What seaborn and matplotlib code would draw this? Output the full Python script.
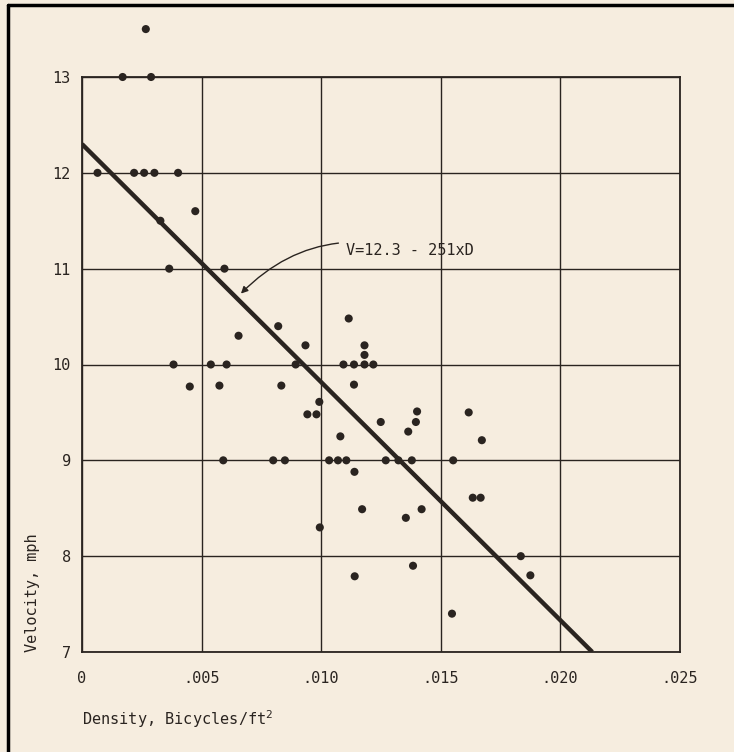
import matplotlib
matplotlib.use("Agg")
import matplotlib.pyplot as plt
from matplotlib.lines import Line2D
import seaborn as sns
import pandas as pd

# ---- data (density in bicycles/ft^2, velocity in mph) ----
density = [0.00065, 0.00170, 0.00289, 0.00267, 0.00218, 0.00260, 0.00303, 0.00402,
           0.00474, 0.00328, 0.00365, 0.00596, 0.00655, 0.00383, 0.00539, 0.00605,
           0.00451, 0.00575, 0.00591, 0.00821, 0.01116, 0.00935, 0.01182, 0.01182,
           0.00894, 0.01094, 0.01138, 0.01182, 0.01219, 0.00834, 0.01138, 0.00993,
           0.00943, 0.00981, 0.01250, 0.01365, 0.01081, 0.00800, 0.00849, 0.01034,
           0.01071, 0.01106, 0.01271, 0.01324, 0.01380, 0.01553, 0.01140, 0.01172,
           0.01355, 0.00995, 0.01141, 0.01402, 0.01397, 0.01618, 0.01673, 0.01635,
           0.01668, 0.01421, 0.01836, 0.01876, 0.01385, 0.01548]
velocity = [12.0, 13.0, 13.0, 13.5, 12.0, 12.0, 12.0, 12.0,
            11.6, 11.5, 11.0, 11.0, 10.3, 10.0, 10.0, 10.0,
            9.77, 9.78, 9.0, 10.4, 10.48, 10.2, 10.2, 10.1,
            10.0, 10.0, 10.0, 10.0, 10.0, 9.78, 9.79, 9.61,
            9.48, 9.48, 9.40, 9.30, 9.25, 9.0, 9.0, 9.0,
            9.0, 9.0, 9.0, 9.0, 9.0, 9.0, 8.88, 8.49,
            8.40, 8.30, 7.79, 9.51, 9.40, 9.50, 9.21, 8.61,
            8.61, 8.49, 8.0, 7.80, 7.90, 7.40]

# fitted line as drawn (V = 12.3 - 251 x D), endpoints
line_x = [0.0, 0.02135]
line_y = [12.3, 7.0]

x_ticks = [0.0, 0.005, 0.010, 0.015, 0.020, 0.025]
x_tick_labels = ["0", ".005", ".010", ".015", ".020", ".025"]
y_ticks = [7, 8, 9, 10, 11, 12, 13]
y_tick_labels = ["7", "8", "9", "10", "11", "12", "13"]
equation_label = "V=12.3 - 251xD"

# ---- style ----
bg = "#f6eddf"
ink = "#2a2420"
sns.set_style("white", {"axes.facecolor": bg, "figure.facecolor": bg})
plt.rcParams["font.family"] = ["DejaVu Sans Mono", "DejaVu Sans"]

fig = plt.figure(figsize=(7.34, 7.52), dpi=100)
fig.patch.set_facecolor(bg)
ax = fig.add_axes([82 / 734, 1 - 652 / 752, (679.5 - 82) / 734, (652 - 77) / 752])
ax.set_facecolor(bg)

pts = pd.DataFrame({"density": density, "velocity": velocity})
reg = pd.DataFrame({"density": line_x, "velocity": line_y})

sns.lineplot(data=reg, x="density", y="velocity", ax=ax, color=ink, lw=3.2,
             zorder=3, solid_capstyle="butt")
sns.scatterplot(data=pts, x="density", y="velocity", ax=ax, color=ink,
                s=34, edgecolor="none", zorder=4, clip_on=False)

ax.set_xlim(0, 0.025)
ax.set_ylim(7, 13)
ax.set_xticks(x_ticks)
ax.set_xticklabels(x_tick_labels)
ax.set_yticks(y_ticks)
ax.set_yticklabels(y_tick_labels)
ax.tick_params(axis="both", length=0, labelsize=11, colors=ink)
ax.tick_params(axis="x", pad=14)
ax.tick_params(axis="y", pad=8)
ax.grid(True, color=ink, lw=1.0, zorder=1)
ax.set_axisbelow(True)
for sp in ax.spines.values():
    sp.set_visible(True)
    sp.set_color(ink)
    sp.set_linewidth(1.3)
ax.set_xlabel("")
ax.set_ylabel("")

ax.annotate(equation_label, xy=(0.00665, 10.74), xytext=(0.01104, 11.19),
            fontsize=11, color=ink, ha="left", va="center",
            arrowprops=dict(arrowstyle="-|>", color=ink, lw=1.0,
                            mutation_scale=10, shrinkA=3, shrinkB=0,
                            connectionstyle="arc3,rad=0.3"))

fig.text(82 / 734, 1 - 719 / 752, r"Density, Bicycles/ft$^{2}$", fontsize=11,
         color=ink, ha="left", va="center")
fig.text(33 / 734, 1 - 652 / 752, "Velocity, mph", fontsize=11, color=ink,
         rotation=90, ha="center", va="bottom")

# page frame (top and left edges)
fig.add_artist(Line2D([8 / 734, 1], [1 - 5 / 752, 1 - 5 / 752],
                      transform=fig.transFigure, color="black", lw=2.5))
fig.add_artist(Line2D([8 / 734, 8 / 734], [0, 1 - 5 / 752],
                      transform=fig.transFigure, color="black", lw=2.5))

fig.savefig("out.png", dpi=100, facecolor=bg)
